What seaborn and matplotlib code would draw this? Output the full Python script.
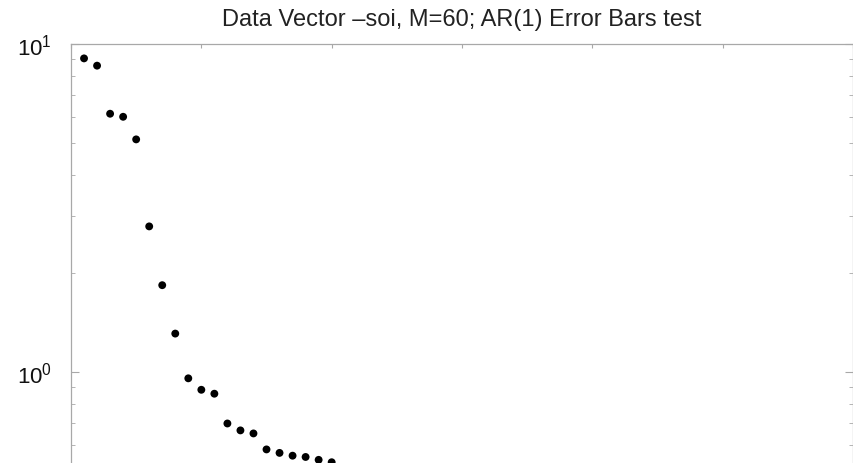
import matplotlib
matplotlib.use("Agg")
import matplotlib.pyplot as plt
import seaborn as sns
import pandas as pd
from matplotlib.ticker import LogLocator, NullFormatter, MultipleLocator, FixedLocator

# data (first 20 visible points)
index = list(range(1, 21))
values = [9.04, 8.59, 6.13, 6.00, 5.12, 2.78, 1.84, 1.31, 0.957, 0.883,
          0.859, 0.697, 0.664, 0.650, 0.581, 0.567, 0.556, 0.551, 0.540, 0.531]
title = "Data Vector \u2013soi, M=60; AR(1) Error Bars test"
y_major = [1, 10]

sns.set_style("ticks")
plt.rcParams["font.family"] = ["Liberation Sans", "DejaVu Sans"]
plt.rcParams["mathtext.default"] = "regular"

df = pd.DataFrame({"k": index, "v": values})

fig = plt.figure(figsize=(8.54, 4.64), dpi=100)
ax = fig.add_axes([71 / 854, -0.511, 782 / 854, 1.414])

sns.scatterplot(data=df, x="k", y="v", ax=ax, color="black", s=32,
                edgecolor="none", linewidth=0, legend=False)

ax.set_yscale("log")
ax.set_ylim(0.1, 10)
ax.set_xlim(0, 60)
ax.xaxis.set_major_locator(MultipleLocator(10))
ax.yaxis.set_major_locator(FixedLocator(y_major))
ax.yaxis.set_minor_locator(LogLocator(base=10, subs=range(2, 10)))
ax.yaxis.set_minor_formatter(NullFormatter())
ax.set_xlabel("")
ax.set_ylabel("")

spine_c = "#a8a8a8"
for sp in ax.spines.values():
    sp.set_visible(True)
    sp.set_color(spine_c)
    sp.set_linewidth(0.9)

ax.tick_params(axis="x", which="major", direction="in", top=True, bottom=True,
               labelbottom=False, length=3, width=0.8, color=spine_c)
ax.tick_params(axis="y", which="major", direction="in", left=True, right=True,
               length=6, width=0.8, color=spine_c, labelsize=16, labelcolor="#111111", pad=14)
ax.tick_params(axis="y", which="minor", direction="in", left=True, right=True,
               length=3, width=0.6, color=spine_c)

fig.text((71 + 853) / 2 / 854, 1 - 20 / 464, title, ha="center", va="center",
         fontsize=17, color="#222222")

fig.savefig("out.png", dpi=100)
